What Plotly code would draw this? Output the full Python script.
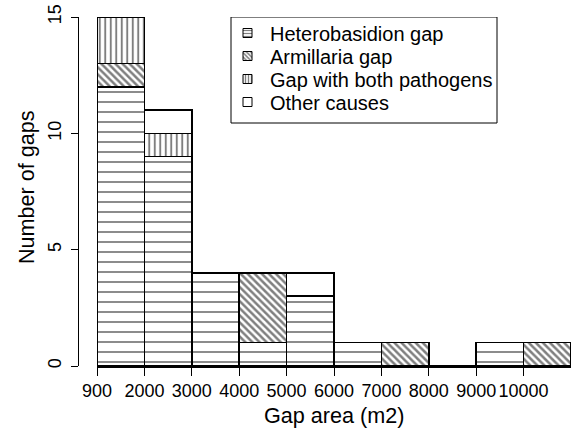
import plotly.graph_objects as go

bin_labels = ["900", "2000", "3000", "4000", "5000", "6000", "7000", "8000", "9000", "10000"]
heterobasidion = [12, 9, 4, 1, 3, 1, 0, 0, 1, 0]
armillaria = [1, 0, 0, 3, 0, 0, 1, 0, 0, 1]
both_pathogens = [2, 1, 0, 0, 0, 0, 0, 0, 0, 0]
other_causes = [0, 1, 0, 0, 1, 0, 0, 0, 0, 0]

series_names = ["Heterobasidion gap", "Armillaria gap", "Gap with both pathogens", "Other causes"]
series_values = [heterobasidion, armillaria, both_pathogens, other_causes]
bar_patterns = [
    dict(shape="-", size=10, solidity=0.18),
    dict(shape="\\", size=5, solidity=0.5),
    dict(shape="|", size=5.5, solidity=0.35),
    dict(shape="", size=8, solidity=0.2),
]
swatch_patterns = [
    dict(shape="-", size=3, solidity=0.4),
    dict(shape="\\", size=3, solidity=0.5),
    dict(shape="|", size=3, solidity=0.45),
    dict(shape="", size=3, solidity=0.2),
]

xpos = [i + 0.5 for i in range(len(bin_labels))]
FONT = "Liberation Sans, Arial, Helvetica, sans-serif"

W, H = 576, 430
ml, mr, mt, mb = 78, 5, 17, 64
plot_w = W - ml - mr
plot_h = H - mt - mb
plot_left = 97
x0 = (plot_left - ml) / plot_w


def px_x(px):
    return (px - ml) / plot_w


def px_y(py):
    return (H - mb - py) / plot_h


fig = go.Figure()
for name, vals, pat in zip(series_names, series_values, bar_patterns):
    p = dict(pat)
    p.update(fgcolor="black", bgcolor="white", fillmode="overlay")
    fig.add_trace(go.Bar(
        x=xpos, y=vals, width=1, name=name, showlegend=False,
        marker=dict(color="white", line=dict(color="black", width=1.5), pattern=p),
        cliponaxis=False,
    ))

# legend (drawn in a pixel-coordinate overlay axis)
leg_left, leg_right, leg_top, leg_bottom = 231, 497, 17, 123
sw_x0, sw_x1, sw_size = 243, 252, 9
text_x = 268
row_y = [33, 56, 79, 102]
annotations = []
for name, pat, cy in zip(series_names, swatch_patterns, row_y):
    p = dict(pat)
    p.update(fgcolor="black", bgcolor="white", fillmode="overlay")
    y0s, y1s = cy - sw_size / 2, cy + sw_size / 2
    fig.add_trace(go.Scatter(
        x=[sw_x0, sw_x1, sw_x1, sw_x0, sw_x0], y=[y0s, y0s, y1s, y1s, y0s],
        xaxis="x2", yaxis="y2", mode="lines", fill="toself",
        fillcolor="white", fillpattern=p,
        line=dict(color="black", width=1), showlegend=False, hoverinfo="skip",
    ))
    annotations.append(dict(
        text=name, xref="x2", yref="y2", x=text_x, y=cy + 1,
        xanchor="left", yanchor="middle", showarrow=False, font=dict(size=20),
    ))

annotations += [
    dict(text="Gap area (m2)", xref="paper", yref="paper",
         x=px_x(334), y=px_y(415),
         xanchor="center", yanchor="middle", showarrow=False, font=dict(size=21.6)),
    dict(text="Number of gaps", xref="paper", yref="paper",
         x=px_x(26), y=px_y(187),
         xanchor="center", yanchor="middle", textangle=-90, showarrow=False, font=dict(size=21.6)),
]

fig.update_layout(
    width=W, height=H,
    margin=dict(l=ml, r=mr, t=mt, b=mb, autoexpand=False),
    barmode="stack", bargap=0,
    plot_bgcolor="white", paper_bgcolor="white",
    font=dict(family=FONT, size=18, color="black"),
    xaxis=dict(
        domain=[x0, 1], range=[0, 10], automargin=False,
        tickmode="array", tickvals=list(range(len(bin_labels))), ticktext=bin_labels,
        ticks="outside", ticklen=8, tickwidth=1, tickcolor="black",
        showline=True, linecolor="black", linewidth=1.5,
        showgrid=False, zeroline=False,
        tickfont=dict(size=18),
    ),
    yaxis=dict(
        range=[0, 15], anchor="free", position=0, automargin=False,
        tickmode="array", tickvals=[0, 5, 10, 15],
        ticks="outside", ticklen=7, tickwidth=1, tickcolor="black",
        showline=True, linecolor="black", linewidth=1,
        showgrid=False, zeroline=False, tickangle=-90,
        tickfont=dict(size=18), ticklabelstandoff=3,
    ),
    xaxis2=dict(range=[plot_left, W - mr], overlaying="x", anchor="y2",
                visible=False, fixedrange=True),
    yaxis2=dict(range=[H - mb, mt], overlaying="y", anchor="x2",
                visible=False, fixedrange=True),
    shapes=[dict(type="rect", xref="x2", yref="y2",
                 x0=leg_left, x1=leg_right, y0=leg_top, y1=leg_bottom,
                 line=dict(color="black", width=1), fillcolor="rgba(0,0,0,0)", layer="above")],
    showlegend=False,
    annotations=annotations,
)

fig.write_html("out.html", config={"displayModeBar": False, "staticPlot": True},
               post_script="document.body.style.margin='0';document.body.style.overflow='hidden';")
